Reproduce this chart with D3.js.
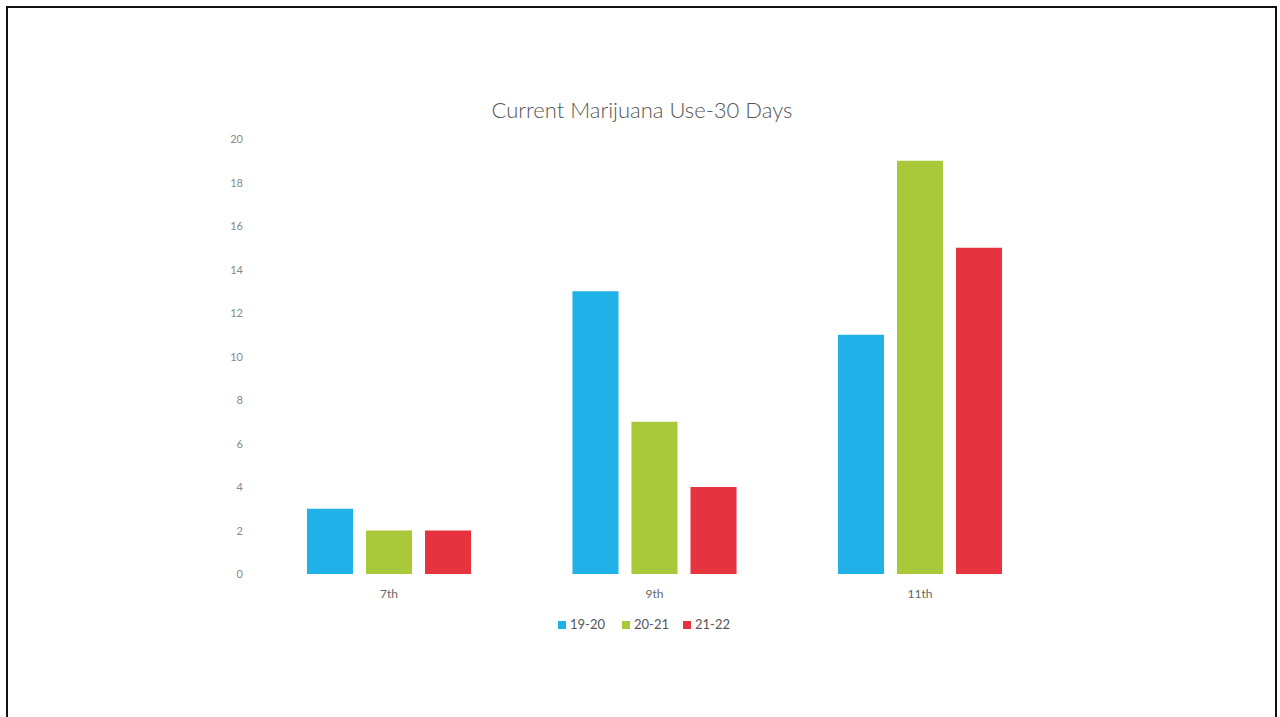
<!DOCTYPE html>
<html>
<head>
<meta charset="utf-8">
<script src="https://cdn.jsdelivr.net/npm/d3@7"></script>
<style>
  html, body { margin: 0; padding: 0; background: #fff; }
  svg { display: block; }
</style>
</head>
<body>
<svg id="chart" width="1280" height="717"></svg>
<script>
const categories = ["7th", "9th", "11th"];
const seriesNames = ["19-20", "20-21", "21-22"];
const values1920 = [3, 13, 11];
const values2021 = [2, 7, 19];
const values2122 = [2, 4, 15];
const yTicks = [0, 2, 4, 6, 8, 10, 12, 14, 16, 18, 20];
const colors = ["#1fb1e8", "#a9c83a", "#e6333f"];

const seriesValues = [values1920, values2021, values2122];
const rows = categories.map((c, i) => ({
  cat: c,
  vals: seriesNames.map((s, j) => ({ s, j, v: seriesValues[j][i] }))
}));

const svg = d3.select("#chart");
const font = "Lato, 'Open Sans', sans-serif";

// frame
svg.append("rect")
  .attr("x", 7).attr("y", 7)
  .attr("width", 1269).attr("height", 730)
  .attr("fill", "none").attr("stroke", "#111").attr("stroke-width", 2);

const y = d3.scaleLinear().domain([0, 20]).range([574, 139]);
const x0 = d3.scaleBand().domain(categories).range([256, 1053])
  .paddingInner(0.382).paddingOuter(0.192);
const x1 = d3.scaleBand().domain(seriesNames).range([0, x0.bandwidth()])
  .paddingInner(0.22).paddingOuter(0);
const color = d3.scaleOrdinal().domain(seriesNames).range(colors);

// title
svg.append("text")
  .attr("x", 642).attr("y", 118)
  .attr("text-anchor", "middle")
  .attr("font-family", font).attr("font-size", 22).attr("font-weight", 300)
  .attr("fill", "#555")
  .text("Current Marijuana Use-30 Days");

// y axis
const yAxis = d3.axisLeft(y).tickValues(yTicks).tickSize(0).tickPadding(0);
const yg = svg.append("g").attr("transform", "translate(243,0)").call(yAxis);
yg.select(".domain").remove();
yg.selectAll("text")
  .attr("font-family", font).attr("font-size", 11).attr("fill", "#888")
  .attr("text-anchor", "end");

// x axis
const xAxis = d3.axisBottom(x0).tickSize(0).tickPadding(0);
const xg = svg.append("g").attr("transform", "translate(0,589)").call(xAxis);
xg.select(".domain").remove();
xg.selectAll("text")
  .attr("font-family", font).attr("font-size", 12).attr("fill", "#666");

// bars
const groups = svg.append("g").selectAll("g").data(rows).join("g")
  .attr("transform", d => `translate(${x0(d.cat)},0)`);
groups.selectAll("rect").data(d => d.vals).join("rect")
  .attr("x", d => x1(d.s))
  .attr("width", x1.bandwidth())
  .attr("y", d => y(d.v))
  .attr("height", d => y(0) - y(d.v))
  .attr("fill", d => color(d.s));

// legend
const legendX = [558, 622, 683];
const lg = svg.append("g").selectAll("g").data(seriesNames).join("g")
  .attr("transform", (d, i) => `translate(${legendX[i]},621)`);
lg.append("rect").attr("width", 8).attr("height", 8).attr("fill", d => color(d));
lg.append("text").attr("x", 12).attr("y", 8)
  .attr("font-family", font).attr("font-size", 13).attr("fill", "#555")
  .text(d => d);
</script>
</body>
</html>
